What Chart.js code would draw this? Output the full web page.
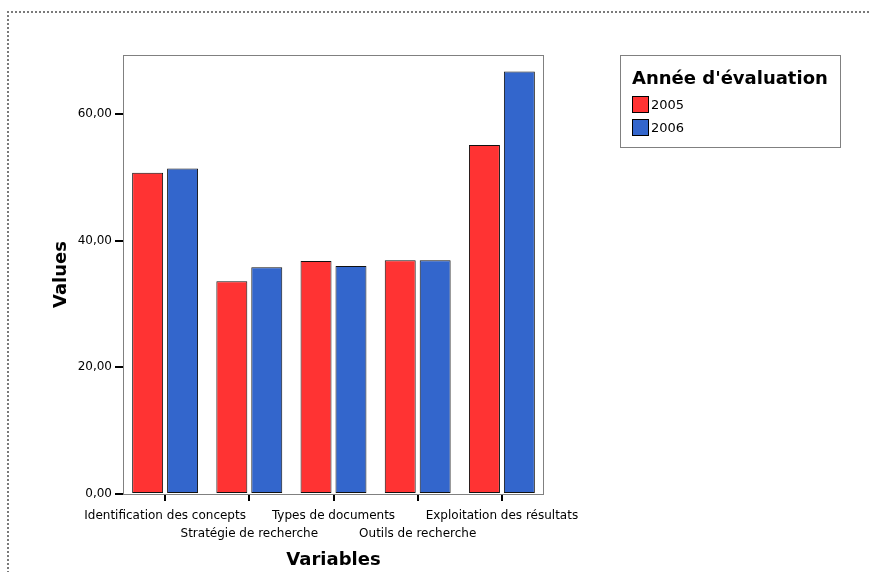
<!DOCTYPE html>
<html>
<head>
<meta charset="utf-8">
<script src="https://cdn.jsdelivr.net/npm/chart.js"></script>
<style>
  body { margin: 0; background: #fff; }
  #wrap { position: relative; width: 871px; height: 572px; overflow: hidden; }
  #frame { position: absolute; left: 7px; top: 11px; width: 900px; height: 600px;
           border-top: 2px dotted #7a7a7a; border-left: 2px dotted #7a7a7a; }
  #legend { position: absolute; left: 620px; top: 55px; width: 219px; height: 91px;
            border: 1px solid #808080; font-family: "DejaVu Sans", sans-serif; }
  #legend .title { position: absolute; left: 11px; font-weight: bold; font-size: 18px; }
  #legend .item { position: absolute; left: 11px; font-size: 13px; height: 17px; line-height: 17px; }
  #legend .sw { display: inline-block; width: 15px; height: 15px; border: 1px solid #000;
                vertical-align: top; margin-right: 2px; }
</style>
</head>
<body>
<div id="wrap">
  <div id="frame"></div>
  <canvas id="mycanvas" width="871" height="572"></canvas>
  <div id="legend"></div>
</div>
<script>
var categories = ["Identification des concepts", "Stratégie de recherche", "Types de documents",
                  "Outils de recherche", "Exploitation des résultats"];
var values2005 = [50.7, 33.6, 36.8, 36.9, 55.1];
var values2006 = [51.4, 35.8, 36.0, 36.9, 66.7];
var seriesNames = ["2005", "2006"];
var legendTitle = "Année d'évaluation";
var red = "#ff3333";
var blue = "#3366cc";

// staggered labels: odd ones on first row, even ones on second row
var labels = [];
for (var i in categories) {
  labels.push(i % 2 == 0 ? [categories[i], ""] : ["", categories[i]]);
}

var frameBox = {
  id: "frameBox",
  beforeDatasetsDraw: function(chart) {
    var a = chart.chartArea, c = chart.ctx;
    c.save();
    c.strokeStyle = "#808080";
    c.lineWidth = 1;
    c.strokeRect(a.left + 0.5, a.top + 0.5, a.right - a.left - 1, a.bottom - a.top);
    c.restore();
  }
};

var ctx = document.getElementById("mycanvas");
var chart = new Chart(ctx, {
  type: "bar",
  data: {
    labels: labels,
    datasets: [
      { label: seriesNames[0], data: values2005, backgroundColor: red,
        borderColor: "#111", borderWidth: 1, borderSkipped: false },
      { label: seriesNames[1], data: values2006, backgroundColor: blue,
        borderColor: "#111", borderWidth: 1, borderSkipped: false }
    ]
  },
  options: {
    responsive: false,
    animation: false,
    layout: { padding: { left: 51, top: 55, right: 327, bottom: 1 } },
    datasets: { bar: { categoryPercentage: 0.83, barPercentage: 0.886 } },
    plugins: { legend: { display: false }, tooltip: { enabled: false } },
    scales: {
      x: {
        grid: { offset: false, drawOnChartArea: false, tickLength: 7, tickColor: "#000", lineWidth: 2 },
        border: { display: false },
        ticks: { autoSkip: false, maxRotation: 0, minRotation: 0, padding: 6, color: "#000",
                 font: { family: "DejaVu Sans", size: 12, lineHeight: 1.5 } },
        title: { display: true, text: "Variables", color: "#000", padding: 0,
                 font: { family: "DejaVu Sans", size: 18, weight: "bold" } },
        afterFit: function(s) { s.height = 77; }
      },
      y: {
        min: 0, max: 69.3,
        grid: { drawOnChartArea: false, tickLength: 8, tickColor: "#000", lineWidth: 2 },
        border: { display: false },
        ticks: { stepSize: 20, includeBounds: false, padding: 3, color: "#000",
                 font: { family: "DejaVu Sans", size: 12 },
                 callback: function(v) { return v.toFixed(2).replace(".", ","); } },
        title: { display: true, text: "Values", color: "#000", padding: 0,
                 font: { family: "DejaVu Sans", size: 18, weight: "bold" } },
        afterFit: function(s) { s.width = 72; }
      }
    }
  },
  plugins: [frameBox]
});

// legend box
var lg = document.getElementById("legend");
var html = '<div class="title" style="top:11px">' + legendTitle + '</div>';
var colors = [red, blue];
for (var k = 0; k < seriesNames.length; k++) {
  html += '<div class="item" style="top:' + (40 + k * 23) + 'px"><span class="sw" style="background:' +
          colors[k] + '"></span>' + seriesNames[k] + '</div>';
}
lg.innerHTML = html;
</script>
</body>
</html>
